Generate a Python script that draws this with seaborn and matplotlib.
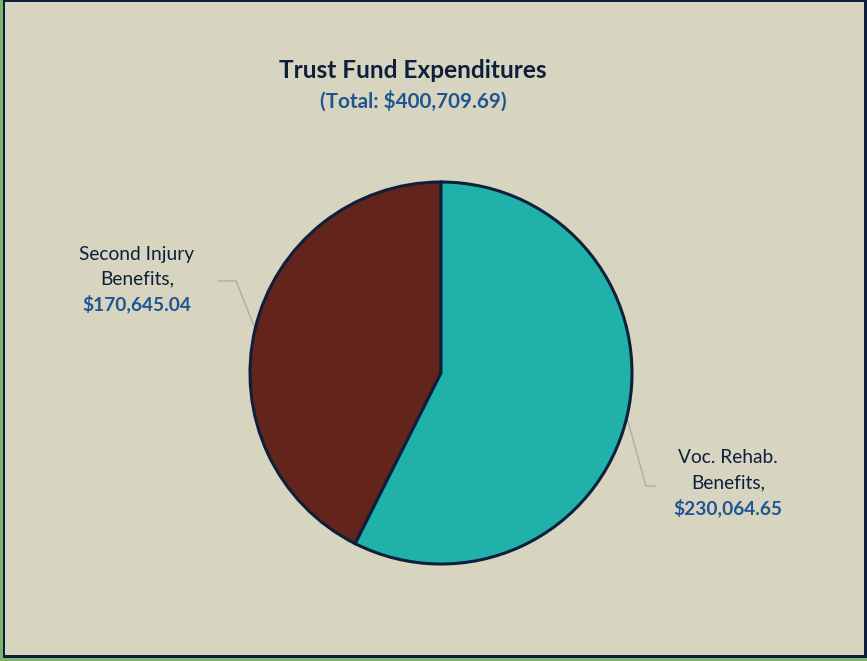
import numpy as np
import matplotlib
matplotlib.use("Agg")
import matplotlib.pyplot as plt
from matplotlib.patches import Rectangle
import seaborn as sns

# Expenditure categories and amounts
categories = ["Second Injury\nBenefits,", "Voc. Rehab.\nBenefits,"]
amounts = [170645.04, 230064.65]
value_labels = ["$170,645.04", "$230,064.65"]
total_label = "(Total: $400,709.69)"
title = "Trust Fund Expenditures"

BG = "#D7D5C0"
NAVY = "#0E1F3B"
BLUE = "#1F5591"
slice_colors = ["#62241B", "#20B2AA"]

sns.set_theme(style="white")
plt.rcParams["font.family"] = ["Lato", "DejaVu Sans"]

W, H = 867, 661
fig = plt.figure(figsize=(W / 100, H / 100), dpi=100)
fig.patch.set_facecolor(BG)

# Pie axes: centre (441, 373) px, radius 191 px
cx, cy, r = 441, 373, 191
ax = fig.add_axes([(cx - r) / W, 1 - (cy + r) / H, 2 * r / W, 2 * r / H])
ax.set_facecolor(BG)

wedges, _ = ax.pie(
    amounts,
    colors=slice_colors,
    startangle=90,
    counterclock=True,
    wedgeprops=dict(edgecolor=NAVY, linewidth=2.2),
)
ax.set_xlim(-1, 1)
ax.set_ylim(-1, 1)
ax.axis("off")

# Label layout (axes data units, 1 unit = pie radius)
label_pos = [(-1.592, 0.623), (1.503, -0.445)]
knees = [(-1.073, 0.482), (1.073, -0.592)]
ends = [(-1.168, 0.482), (1.120, -0.592)]
line_gap = 0.131

for w, cat, val, (tx, ty), kn, en in zip(wedges, categories, value_labels,
                                         label_pos, knees, ends):
    mid = np.deg2rad((w.theta1 + w.theta2) / 2)
    sx, sy = np.cos(mid), np.sin(mid)
    ax.plot([sx, kn[0], en[0]], [sy, kn[1], en[1]], color="#ADADAD",
            linewidth=1.0, clip_on=False, zorder=0)
    l1, l2 = cat.split("\n")
    ax.text(tx, ty, l1, ha="center", va="center", fontsize=13.8,
            color=NAVY, clip_on=False)
    ax.text(tx, ty - line_gap, l2, ha="center", va="center", fontsize=13.8,
            color=NAVY, clip_on=False)
    ax.text(tx, ty - 2 * line_gap, val, ha="center", va="center",
            fontsize=13.8, color=BLUE, fontweight="bold", clip_on=False)

fig.text(413 / W, 1 - 71 / H, title, ha="center", va="center",
         fontsize=17.6, fontweight="bold", color=NAVY)
fig.text(413 / W, 1 - 101 / H, total_label, ha="center", va="center",
         fontsize=14.9, fontweight="bold", color=BLUE)

# Frame around the chart
def px_rect(x0, y0, x1, y1, color):
    fig.patches.append(Rectangle((x0 / W, 1 - y1 / H), (x1 - x0) / W,
                                 (y1 - y0) / H, transform=fig.transFigure,
                                 facecolor=color, edgecolor="none",
                                 zorder=10))

px_rect(0, 0, 3, H, "#7DB36A")
px_rect(0, 658, W, H, "#7DB36A")
px_rect(3, 0, 5, 658, NAVY)
px_rect(3, 0, W, 2, NAVY)
px_rect(864, 0, W, 658, NAVY)
px_rect(3, 655, W, 658, NAVY)

fig.savefig("out.png", dpi=100, facecolor=BG)
